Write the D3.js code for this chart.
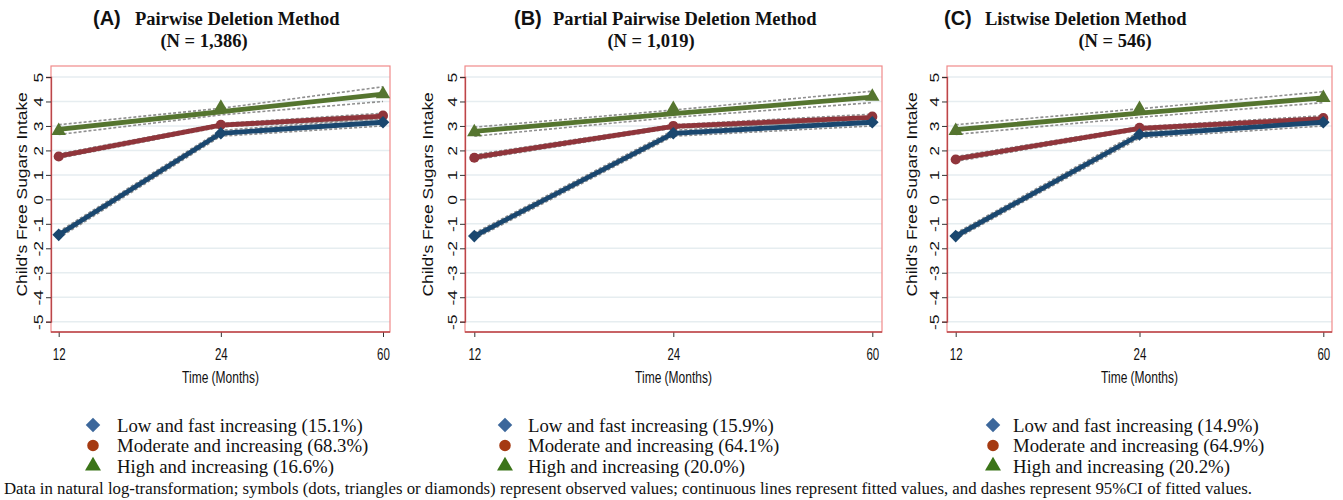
<!DOCTYPE html>
<html>
<head>
<meta charset="utf-8">
<script src="https://cdn.jsdelivr.net/npm/d3@7"></script>
<style>
  body { margin: 0; background: #fff; }
  svg { display: block; }
  .serif { font-family: "Liberation Serif", "Times New Roman", serif; }
  .sans { font-family: "Liberation Sans", Arial, sans-serif; }
</style>
</head>
<body>
<div id="chart"></div>
<script>
// months on the x axis (ordinal)
const months = ["12", "24", "60"];
const yTicks = [-5, -4, -3, -2, -1, 0, 1, 2, 3, 4, 5];

const panelLetters = ["(A)", "(B)", "(C)"];
const panelTitles = ["Pairwise Deletion Method", "Partial Pairwise Deletion Method", "Listwise Deletion Method"];
const panelN = ["(N = 1,386)", "(N = 1,019)", "(N = 546)"];

const groupNames = ["Low and fast increasing", "Moderate and increasing", "High and increasing"];
const groupShares = [
    ["15.1%", "68.3%", "16.6%"],
    ["15.9%", "64.1%", "20.0%"],
    ["14.9%", "64.9%", "20.2%"]
];

// observed values [panel][group][month]
const observed = [
    [[-1.45, 2.70, 3.15], [1.75, 3.05, 3.42], [2.80, 3.75, 4.30]],
    [[-1.50, 2.70, 3.15], [1.70, 3.00, 3.38], [2.75, 3.70, 4.20]],
    [[-1.50, 2.65, 3.15], [1.63, 2.92, 3.32], [2.80, 3.70, 4.15]]
];
// fitted values
const fitted = [
    [[-1.45, 2.70, 3.15], [1.77, 3.03, 3.40], [2.86, 3.58, 4.30]],
    [[-1.50, 2.70, 3.15], [1.72, 2.98, 3.35], [2.78, 3.50, 4.18]],
    [[-1.50, 2.63, 3.15], [1.65, 2.90, 3.30], [2.85, 3.52, 4.15]]
];
// 95% CI bounds
const ciLow = [
    [[-1.58, 2.58, 3.00], [1.68, 2.96, 3.28], [2.65, 3.45, 4.00]],
    [[-1.62, 2.58, 3.00], [1.62, 2.91, 3.22], [2.58, 3.35, 3.95]],
    [[-1.62, 2.50, 3.00], [1.55, 2.83, 3.18], [2.65, 3.35, 3.95]]
];
const ciHigh = [
    [[-1.32, 2.82, 3.30], [1.86, 3.10, 3.52], [3.05, 3.72, 4.60]],
    [[-1.38, 2.82, 3.30], [1.82, 3.05, 3.48], [2.95, 3.65, 4.42]],
    [[-1.38, 2.76, 3.30], [1.75, 2.97, 3.42], [3.05, 3.70, 4.40]]
];

const lineColors = ["#1a476f", "#90353b", "#55752f"];
const legendColors = ["#3c679b", "#a53a12", "#3b7419"];
const shapes = [d3.symbolSquare, d3.symbolCircle, d3.symbolTriangle];
const rot = [45, 0, 0];

const W = 1343, H = 500;
const svg = d3.select("#chart").append("svg").attr("width", W).attr("height", H);

// layout of the three panels
const panels = [
    {left: 51, right: 390, x0: 58.7, x1: 383, ylab: 27, letterX: 93, titleX: 135, nX: 204, legX: 93, legTextX: 117},
    {left: 465, right: 882, x0: 474.3, x1: 872.3, ylab: 433, letterX: 514, titleX: 553, nX: 651, legX: 505, legTextX: 528},
    {left: 947, right: 1332, x0: 955.7, x1: 1323.3, ylab: 917, letterX: 944, titleX: 985, nX: 1115, legX: 993, legTextX: 1013}
];
const plotTop = 66, plotBottom = 332;

const y = d3.scaleLinear().domain([-5, 5]).range([321.7, 77]);

panels.forEach((p, pi) => {
    const g = svg.append("g");
    const x = d3.scalePoint().domain(months).range([p.x0, p.x1]);

    // grid
    g.selectAll(".grid").data(yTicks).enter().append("line")
        .attr("x1", p.left).attr("x2", p.right)
        .attr("y1", d => y(d)).attr("y2", d => y(d))
        .attr("stroke", "#e6edf0").attr("stroke-width", 1.5);

    // frame
    g.append("rect").attr("x", p.left).attr("y", plotTop)
        .attr("width", p.right - p.left).attr("height", plotBottom - plotTop)
        .attr("fill", "none").attr("stroke", "#f08a8a").attr("stroke-width", 1.2);

    // y axis
    const yAxis = g.append("g").attr("transform", `translate(${p.left},0)`)
        .call(d3.axisLeft(y).tickValues(yTicks).tickSize(5).tickFormat(d => String(d)));
    yAxis.select(".domain").attr("stroke", "#b9474a").attr("stroke-width", 1.3);
    yAxis.selectAll(".tick line").attr("stroke", "#333");
    yAxis.selectAll(".tick text")
        .attr("x", 0).attr("y", 0).attr("dy", null)
        .attr("transform", "translate(-8,0) rotate(-90) scale(1.35,1)")
        .attr("text-anchor", "middle")
        .attr("class", "sans")
        .attr("font-size", 13).attr("fill", "#111");

    // x axis
    const xAxis = g.append("g").attr("transform", `translate(0,${plotBottom})`)
        .call(d3.axisBottom(x).tickSize(5).tickPadding(0));
    xAxis.select(".domain").remove();
    g.append("line").attr("x1", p.left).attr("x2", p.right)
        .attr("y1", plotBottom).attr("y2", plotBottom)
        .attr("stroke", "#b9474a").attr("stroke-width", 1.3);
    xAxis.selectAll(".tick line").attr("stroke", "#333");
    xAxis.selectAll(".tick text")
        .attr("class", "sans").attr("y", 28).attr("dy", null)
        .attr("transform", "scale(0.72,1)")
        .attr("font-size", 16).attr("fill", "#111");

    // axis titles
    g.append("text")
        .attr("transform", `translate(${(p.left + p.right) / 2},383) scale(0.75,1)`)
        .attr("text-anchor", "middle").attr("class", "sans")
        .attr("font-size", 16).attr("fill", "#111").text("Time (Months)");
    g.append("text").attr("transform", `translate(${p.ylab},${y(0) - 5}) rotate(-90) scale(1.2,1)`)
        .attr("text-anchor", "middle").attr("class", "sans")
        .attr("font-size", 14.5).attr("fill", "#111").text("Child's Free Sugars Intake");

    // CI dashed lines
    const line = d3.line().x((d, i) => x(months[i])).y(d => y(d));
    [ciLow, ciHigh].forEach(ci => {
        ci[pi].forEach(vals => {
            g.append("path").attr("d", line(vals)).attr("fill", "none")
                .attr("stroke", "#8f8f8f").attr("stroke-width", 1.6)
                .attr("stroke-dasharray", "3,2");
        });
    });

    // fitted lines, drawn green first then red then blue
    [2, 1, 0].forEach(gi => {
        g.append("path").attr("d", line(fitted[pi][gi])).attr("fill", "none")
            .attr("stroke", lineColors[gi]).attr("stroke-width", 4.8)
            .attr("stroke-linejoin", "round");
        g.selectAll(null).data(observed[pi][gi]).enter().append("path")
            .attr("transform", (d, i) => `translate(${x(months[i])},${y(d)}) rotate(${rot[gi]})`)
            .attr("d", d3.symbol().type(shapes[gi]).size(gi === 2 ? 90 : 80))
            .attr("fill", lineColors[gi]);
    });

    // title
    g.append("text").attr("x", p.letterX).attr("y", 25).attr("fill", "#111")
        .attr("class", "sans").attr("font-weight", "bold").attr("font-size", 20)
        .text(panelLetters[pi]);
    g.append("text").attr("x", p.titleX).attr("y", 25).attr("fill", "#111")
        .attr("class", "serif").attr("font-weight", "bold").attr("font-size", 18.5)
        .text(panelTitles[pi]);
    g.append("text").attr("x", p.nX).attr("y", 47)
        .attr("text-anchor", "middle").attr("fill", "#111").attr("class", "serif")
        .attr("font-weight", "bold").attr("font-size", 18.5).text(panelN[pi]);

    // legend
    groupNames.forEach((name, gi) => {
        const ly = 425 + gi * 20.5;
        g.append("path").attr("transform", `translate(${p.legX},${ly}) rotate(${rot[gi]})`)
            .attr("d", d3.symbol().type(shapes[gi]).size(gi === 2 ? 110 : 105))
            .attr("fill", legendColors[gi]);
        g.append("text").attr("x", p.legTextX).attr("y", ly + 6.5)
            .attr("class", "serif")
            .attr("font-size", 18.8).attr("fill", "#111")
            .text(`${name} (${groupShares[pi][gi]})`);
    });
});

svg.append("text").attr("x", 4).attr("y", 494)
    .attr("class", "serif")
    .attr("font-size", 16.8).attr("fill", "#111")
    .text("Data in natural log-transformation; symbols (dots, triangles or diamonds) represent observed values; continuous lines represent fitted values, and dashes represent 95%CI of fitted values.");
</script>
</body>
</html>
